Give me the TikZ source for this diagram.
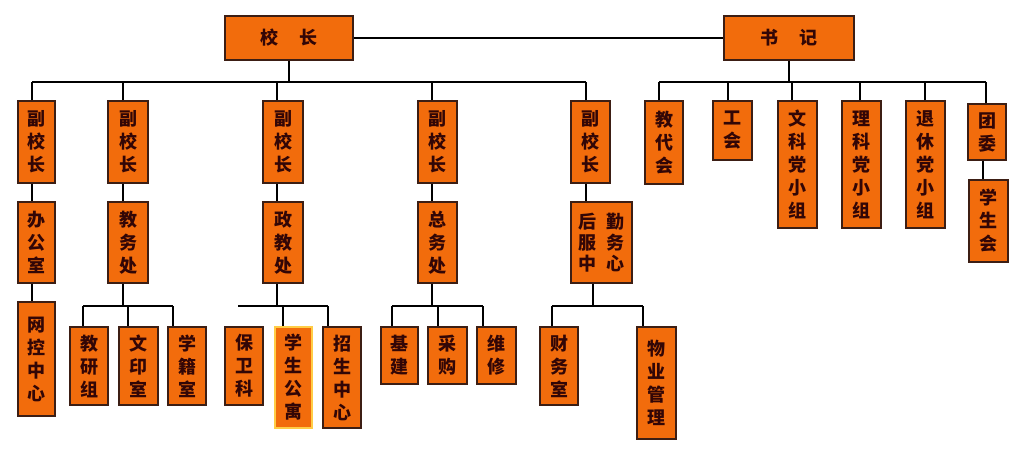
\documentclass[tikz,border=0pt]{standalone}
\usepackage{fontspec}
\newfontfamily\cjk{Noto Sans CJK SC}
\definecolor{boxfill}{RGB}{242,108,12}
\definecolor{boxline}{RGB}{60,30,20}
\definecolor{txt}{RGB}{50,6,6}
\definecolor{glow}{RGB}{255,205,70}
\tikzset{
  box/.style={draw=boxline, line width=1.2pt, fill=boxfill, rectangle, inner sep=0pt,
    text=txt, font=\cjk\bfseries\fontsize{18}{23}\selectfont, align=center},
  glowbox/.style={draw=glow, line width=2.4pt},
  conn/.style={draw=black, line width=1.4pt}
}
\newcommand\mybox[7]{%
  \node[box,#1,minimum width={(#5-#3)*1pt},minimum height={(#6-#4)*1pt}] (#2) at ({(#3+#5)/2},{(#4+#6)/2}) {#7};}
\begin{document}
\begin{tikzpicture}[x=1pt,y=-1pt]
\useasboundingbox[fill=white] (0,0) rectangle (1022,456);
\coordinate (b1) at (289,82);
\coordinate (b2) at (789,82);
% top-level boxes
\mybox{}{xz}{225}{16}{353}{60}{校\hspace{1.2em}长}
\mybox{}{sj}{724}{16}{854}{60}{书\hspace{1.2em}记}
% vice principals
\mybox{}{vp1}{18}{101}{55}{183}{副\\校\\长}
\mybox{}{vp2}{108}{101}{148}{183}{副\\校\\长}
\mybox{}{vp3}{263}{101}{303}{183}{副\\校\\长}
\mybox{}{vp4}{418}{101}{457}{183}{副\\校\\长}
\mybox{}{vp5}{571}{101}{610}{183}{副\\校\\长}
% secretary branch
\mybox{}{jdh}{645}{101}{683}{184}{教\\代\\会}
\mybox{}{gh}{713}{101}{752}{160}{工\\会}
\mybox{}{wk}{778}{101}{817}{228}{文\\科\\党\\小\\组}
\mybox{}{lk}{842}{101}{881}{228}{理\\科\\党\\小\\组}
\mybox{}{tx}{906}{101}{945}{228}{退\\休\\党\\小\\组}
\mybox{}{tw}{968}{104}{1006}{160}{团\\委}
\mybox{}{xsh}{969}{180}{1008}{262}{学\\生\\会}
% departments
\mybox{}{bgs}{18}{202}{55}{283}{办\\公\\室}
\mybox{}{wkzx}{18}{302}{55}{416}{网\\控\\中\\心}
\mybox{}{jwc}{108}{202}{148}{283}{教\\务\\处}
\mybox{}{zjc}{263}{202}{303}{283}{政\\教\\处}
\mybox{}{zwc}{418}{202}{457}{283}{总\\务\\处}
\mybox{font=\cjk\bfseries\fontsize{18}{21}\selectfont}{hq}{571}{202}{632}{283}{后\hspace{0.55em}勤\\服\hspace{0.55em}务\\中\hspace{0.55em}心}
% sections
\mybox{}{jyz}{70}{327}{108}{405}{教\\研\\组}
\mybox{}{wys}{119}{327}{158}{405}{文\\印\\室}
\mybox{}{xjs}{168}{327}{206}{405}{学\\籍\\室}
\mybox{}{bwk}{225}{327}{263}{405}{保\\卫\\科}
\mybox{glowbox}{xsgy}{275}{327}{312}{428}{学\\生\\公\\寓}
\mybox{}{zszx}{323}{327}{361}{428}{招\\生\\中\\心}
\mybox{}{jj}{381}{327}{418}{384}{基\\建}
\mybox{}{cg}{428}{327}{467}{384}{采\\购}
\mybox{}{wx}{477}{327}{516}{384}{维\\修}
\mybox{}{cws}{540}{327}{578}{405}{财\\务\\室}
\mybox{}{wygl}{637}{327}{676}{439}{物\\业\\管\\理}
% ---- connectors ----
\draw[conn] (xz.east) -- (sj.west);
\draw[conn] (xz.south) -- (b1);
\draw[conn] (32,82) -- (586,82);
\foreach \n/\x in {vp1/32,vp2/123,vp3/277,vp4/432,vp5/586}
  \draw[conn] (\n.north -| \x,0) -- (\x,82);
\draw[conn] (sj.south) -- (b2);
\draw[conn] (659,82) -- (986,82);
\foreach \n/\x in {jdh/659,gh/728,wk/792,lk/860,tx/925,tw/986}
  \draw[conn] (\n.north -| \x,0) -- (\x,82);
\draw[conn] (tw.south -| 983,0) -- (xsh.north -| 983,0);
% column 1
\draw[conn] (vp1.south -| 32,0) -- (bgs.north -| 32,0);
\draw[conn] (bgs.south -| 32,0) -- (wkzx.north -| 32,0);
% column 2
\draw[conn] (vp2.south -| 123,0) -- (jwc.north -| 123,0);
\draw[conn] (jwc.south -| 123,0) -- (123,306);
\draw[conn] (83,306) -- (173,306);
\foreach \n/\x in {jyz/83,wys/128,xjs/173}
  \draw[conn] (\x,306) -- (\n.north -| \x,0);
% column 3
\draw[conn] (vp3.south -| 277,0) -- (zjc.north -| 277,0);
\draw[conn] (zjc.south -| 277,0) -- (277,306);
\draw[conn] (238,306) -- (328,306);
\foreach \n/\x in {xsgy/283,zszx/328}
  \draw[conn] (\x,306) -- (\n.north -| \x,0);
% column 4
\draw[conn] (vp4.south -| 432,0) -- (zwc.north -| 432,0);
\draw[conn] (zwc.south -| 432,0) -- (432,306);
\draw[conn] (392,306) -- (483,306);
\foreach \n/\x in {jj/392,cg/438,wx/483}
  \draw[conn] (\x,306) -- (\n.north -| \x,0);
% column 5
\draw[conn] (vp5.south -| 586,0) -- (hq.north -| 586,0);
\draw[conn] (hq.south -| 593,0) -- (593,306);
\draw[conn] (552,306) -- (643,306);
\foreach \n/\x in {cws/552,wygl/643}
  \draw[conn] (\x,306) -- (\n.north -| \x,0);
\end{tikzpicture}
\end{document}
